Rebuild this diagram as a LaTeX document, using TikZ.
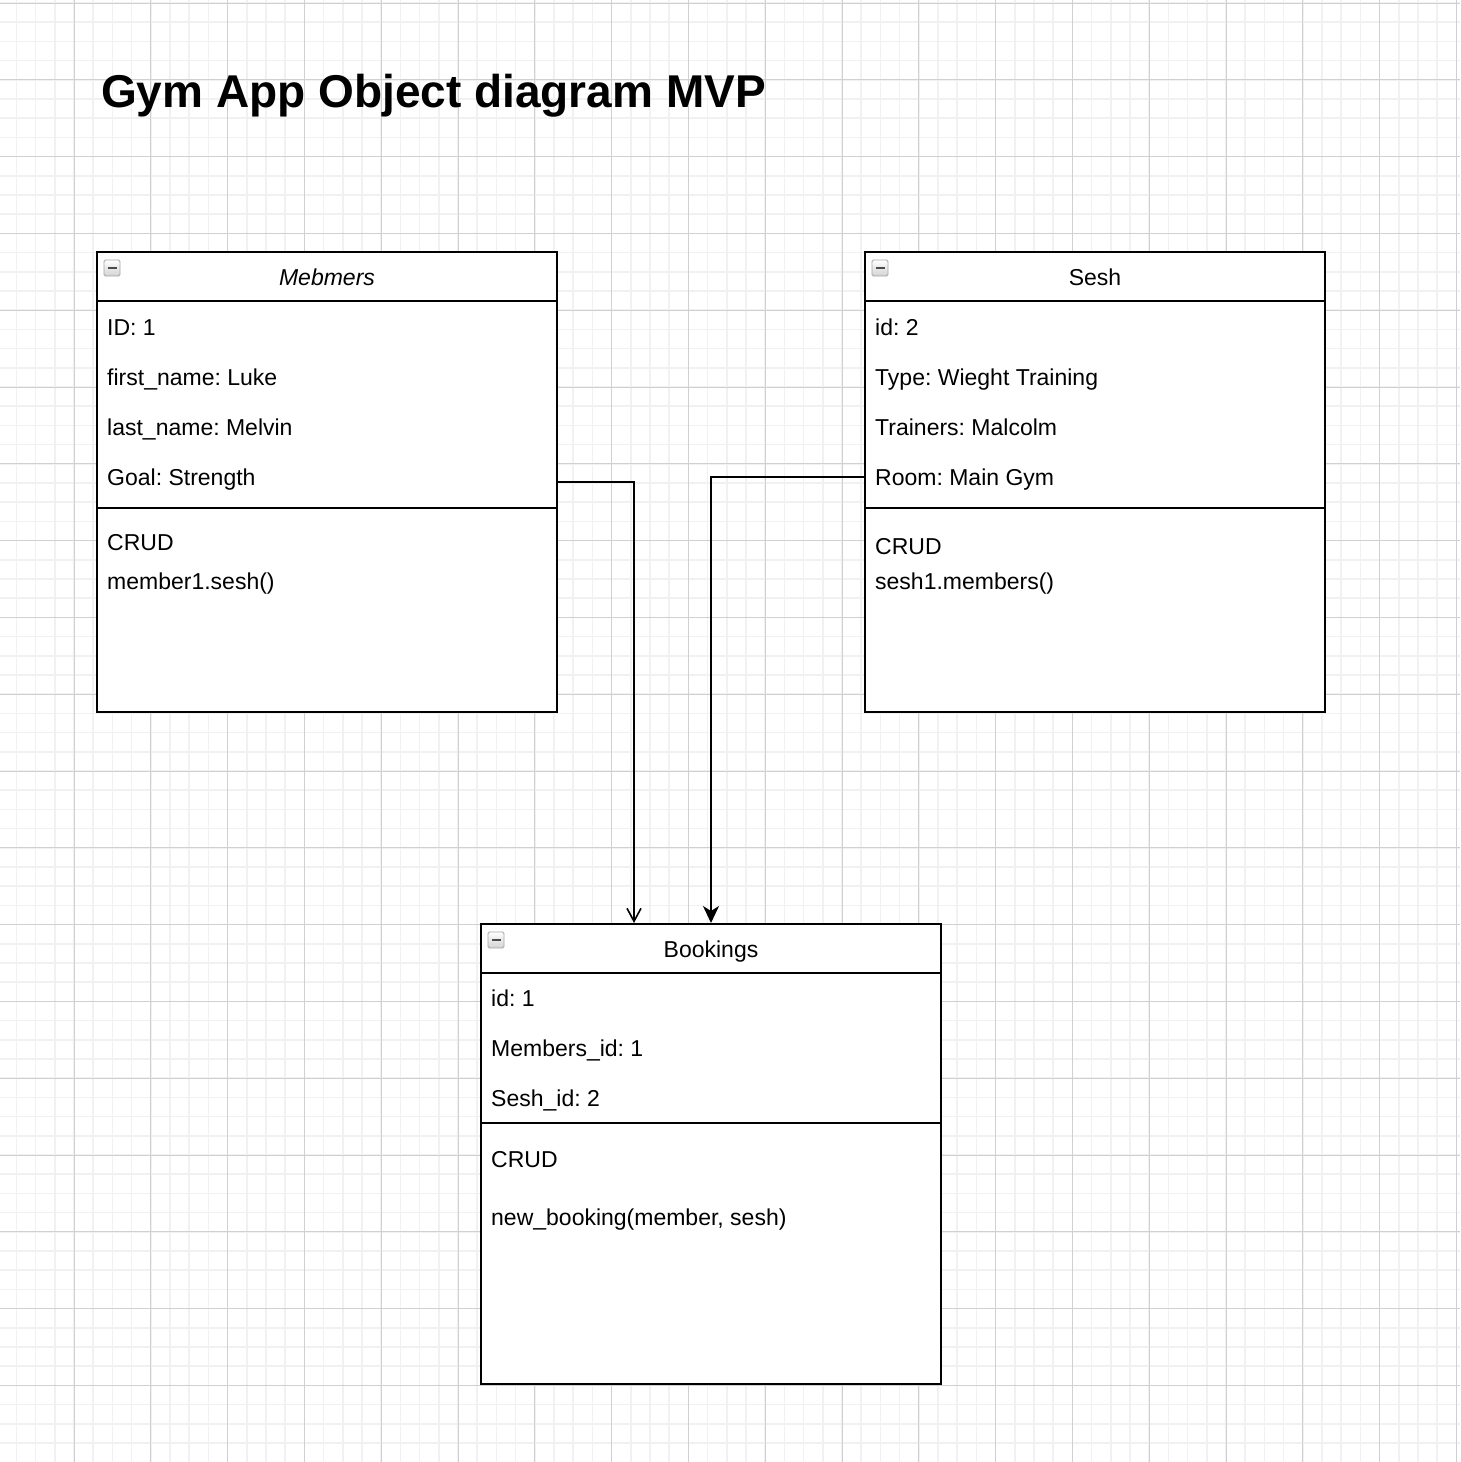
\documentclass[tikz,border=0pt]{standalone}
\usepackage{fontspec}
\setmainfont{Liberation Sans}
\usetikzlibrary{arrows.meta,positioning,calc}
\definecolor{gridmajor}{HTML}{D0D0D0}
\definecolor{gridminor}{HTML}{F1F1F1}
\frenchspacing

\begin{document}
\begin{tikzpicture}[
  x=1pt, y=-1pt,
  classbox/.style={draw, line width=2pt, minimum width=460pt, minimum height=460pt, inner sep=0pt, fill=white},
  rule/.style={line width=2pt},
  head/.style={inner sep=0pt, text height=16.5pt, text depth=0pt, font=\fontsize{23}{27}\selectfont},
  attr/.style={anchor=west, inner sep=0pt, text height=16.5pt, text depth=0pt, font=\fontsize{23}{27}\selectfont},
  icon/.style={draw=gray!70, line width=0.8pt, rounded corners=1.5pt, minimum size=16pt, inner sep=0pt,
    top color=white, bottom color=gray!35,
    path picture={\draw[line width=2pt, black!70] ([xshift=3.5pt]path picture bounding box.west) -- ([xshift=-3.5pt]path picture bounding box.east);}},
  link/.style={line width=2pt}
]
\useasboundingbox (0,0) rectangle (1460,1462);
% background grid
\foreach \k in {0,...,75} {
  \draw[gridminor, line width=1.6pt] (16.4+19.2*\k,0) -- (16.4+19.2*\k,1462);
  \draw[gridminor, line width=1.6pt] (0,3+19.2*\k) -- (1460,3+19.2*\k);
}
\foreach \k in {0,...,18} {
  \draw[gridmajor, line width=1pt] (74+76.8*\k,0) -- (74+76.8*\k,1462);
  \draw[gridmajor, line width=1pt] (0,3+76.8*\k) -- (1460,3+76.8*\k);
}

\node[anchor=west, inner sep=0pt, font=\fontsize{46}{52}\selectfont\bfseries] (title) at (101,96) {Gym App Object diagram MVP};

% Members
\node[classbox] (members) at (327,482) {};
\draw[rule] ($(members.north west)+(0,50)$) -- ($(members.north east)+(0,50)$);
\draw[rule] ($(members.north west)+(0,257)$) -- ($(members.north east)+(0,257)$);
\node[icon] (membersicon) at ($(members.north west)+(16,17)$) {};
\node[head] (membersname) at ($(members.north)+(0,26)$) {\itshape Mebmers};
\foreach \t [count=\i] in {ID: 1, first\_name: Luke, last\_name: Melvin, Goal: Strength}
  \node[attr] (members-a\i) at ($(members.north west)+(11,26+50*\i)$) {\t};
\node[attr] (members-m1) at ($(members.north west)+(11,291)$) {CRUD};
\node[attr] (members-m2) at ($(members.north west)+(11,330)$) {member1.sesh()};

% Sesh
\node[classbox] (sesh) at (1095,482) {};
\draw[rule] ($(sesh.north west)+(0,50)$) -- ($(sesh.north east)+(0,50)$);
\draw[rule] ($(sesh.north west)+(0,257)$) -- ($(sesh.north east)+(0,257)$);
\node[icon] (seshicon) at ($(sesh.north west)+(16,17)$) {};
\node[head] (seshname) at ($(sesh.north)+(0,26)$) {Sesh};
\foreach \t [count=\i] in {id: 2, Type: Wieght Training, Trainers: Malcolm, Room: Main Gym}
  \node[attr] (sesh-a\i) at ($(sesh.north west)+(11,26+50*\i)$) {\t};
\node[attr] (sesh-m1) at ($(sesh.north west)+(11,295)$) {CRUD};
\node[attr] (sesh-m2) at ($(sesh.north west)+(11,330)$) {sesh1.members()};

% Bookings
\node[classbox] (bookings) at (711,1154) {};
\draw[rule] ($(bookings.north west)+(0,50)$) -- ($(bookings.north east)+(0,50)$);
\draw[rule] ($(bookings.north west)+(0,200)$) -- ($(bookings.north east)+(0,200)$);
\node[icon] (bookingsicon) at ($(bookings.north west)+(16,17)$) {};
\node[head] (bookingsname) at ($(bookings.north)+(0,26)$) {Bookings};
\foreach \t [count=\i] in {id: 1, Members\_id: 1, Sesh\_id: 2}
  \node[attr] (bookings-a\i) at ($(bookings.north west)+(11,25+50*\i)$) {\t};
\node[attr] (bookings-m1) at ($(bookings.north west)+(11,236)$) {CRUD};
\node[attr] (bookings-m2) at ($(bookings.north west)+(11,294)$) {new\_booking(member, sesh)};

% links
\draw[link, line width=1.6pt, -{Straight Barb[length=13pt, width=14pt, line width=1.6pt]}] (members.east) -| ([xshift=-77pt]bookings.north);
\draw[link, -{Stealth[length=17pt, width=16pt, inset=5pt]}] ([yshift=5pt]sesh.west) -| (bookings.north);
\end{tikzpicture}
\end{document}
